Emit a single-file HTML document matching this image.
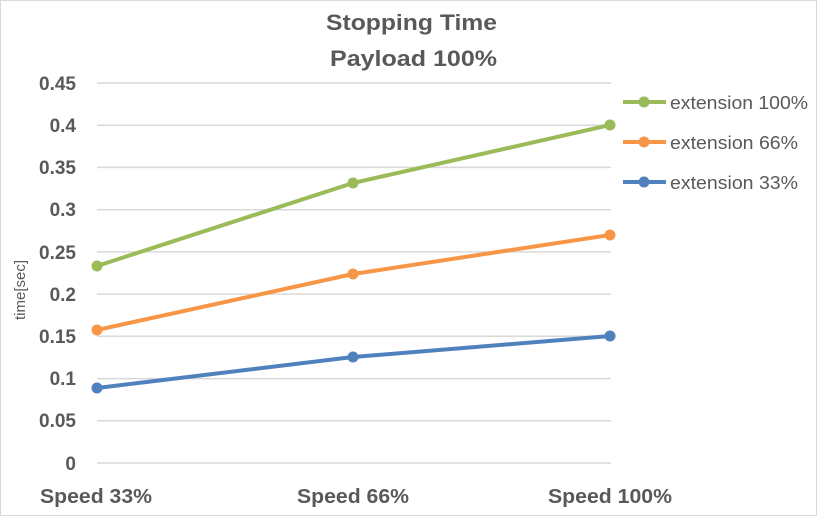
<!DOCTYPE html>
<html><head><meta charset="utf-8"><style>
body{margin:0;background:#fff}
svg{display:block}
text{font-family:"Liberation Sans",sans-serif;fill:#595959}
</style></head><body>
<svg width="817" height="516" viewBox="0 0 817 516">
<rect x="0.5" y="0.5" width="816" height="515" fill="#fff" stroke="#d9d9d9"/>
<text x="326" y="30" font-size="22" font-weight="bold" textLength="171" lengthAdjust="spacingAndGlyphs">Stopping Time</text>
<text x="330" y="66" font-size="22" font-weight="bold" textLength="167" lengthAdjust="spacingAndGlyphs">Payload 100%</text>
<g stroke="#d9d9d9" stroke-width="1.5">
<line x1="97" x2="611" y1="83" y2="83"/><line x1="97" x2="611" y1="125.2" y2="125.2"/>
<line x1="97" x2="611" y1="167.4" y2="167.4"/><line x1="97" x2="611" y1="209.7" y2="209.7"/>
<line x1="97" x2="611" y1="251.9" y2="251.9"/><line x1="97" x2="611" y1="294.1" y2="294.1"/>
<line x1="97" x2="611" y1="336.3" y2="336.3"/><line x1="97" x2="611" y1="378.6" y2="378.6"/>
<line x1="97" x2="611" y1="420.8" y2="420.8"/><line x1="97" x2="611" y1="463" y2="463"/>
</g>
<g font-size="19" font-weight="bold" text-anchor="end">
<text x="76" y="90">0.45</text><text x="76" y="132">0.4</text><text x="76" y="174">0.35</text>
<text x="76" y="216">0.3</text><text x="76" y="259">0.25</text><text x="76" y="301">0.2</text>
<text x="76" y="343">0.15</text><text x="76" y="385">0.1</text><text x="76" y="427">0.05</text>
<text x="76" y="470">0</text>
</g>
<g font-size="20" font-weight="bold">
<text x="40" y="503" textLength="112" lengthAdjust="spacingAndGlyphs">Speed 33%</text>
<text x="297" y="503" textLength="112" lengthAdjust="spacingAndGlyphs">Speed 66%</text>
<text x="548" y="503" textLength="124" lengthAdjust="spacingAndGlyphs">Speed 100%</text>
</g>
<text transform="translate(25,290) rotate(-90)" font-size="15" text-anchor="middle">time[sec]</text>
<g stroke-width="4" fill="none" stroke-linejoin="round">
<polyline points="97,266 353,183 610,125" stroke="#9bbb59"/>
<polyline points="97,330 353,274 610,235" stroke="#f79646"/>
<polyline points="97,388 353,357 610,336" stroke="#4f81bd"/>
</g>
<g fill="#9bbb59"><circle cx="97" cy="266" r="5.5"/><circle cx="353" cy="183" r="5.5"/><circle cx="610" cy="125" r="5.5"/></g>
<g fill="#f79646"><circle cx="97" cy="330" r="5.5"/><circle cx="353" cy="274" r="5.5"/><circle cx="610" cy="235" r="5.5"/></g>
<g fill="#4f81bd"><circle cx="97" cy="388" r="5.5"/><circle cx="353" cy="357" r="5.5"/><circle cx="610" cy="336" r="5.5"/></g>
<g stroke-width="4">
<line x1="623" x2="666" y1="102" y2="102" stroke="#9bbb59"/><circle cx="644" cy="102" r="5.5" fill="#9bbb59"/>
<line x1="623" x2="666" y1="142" y2="142" stroke="#f79646"/><circle cx="644" cy="142" r="5.5" fill="#f79646"/>
<line x1="623" x2="666" y1="182" y2="182" stroke="#4f81bd"/><circle cx="644" cy="182" r="5.5" fill="#4f81bd"/>
</g>
<g font-size="18">
<text x="670" y="109" textLength="138" lengthAdjust="spacingAndGlyphs">extension 100%</text>
<text x="670" y="149" textLength="128" lengthAdjust="spacingAndGlyphs">extension 66%</text>
<text x="670" y="189" textLength="128" lengthAdjust="spacingAndGlyphs">extension 33%</text>
</g>
</svg>
</body></html>
